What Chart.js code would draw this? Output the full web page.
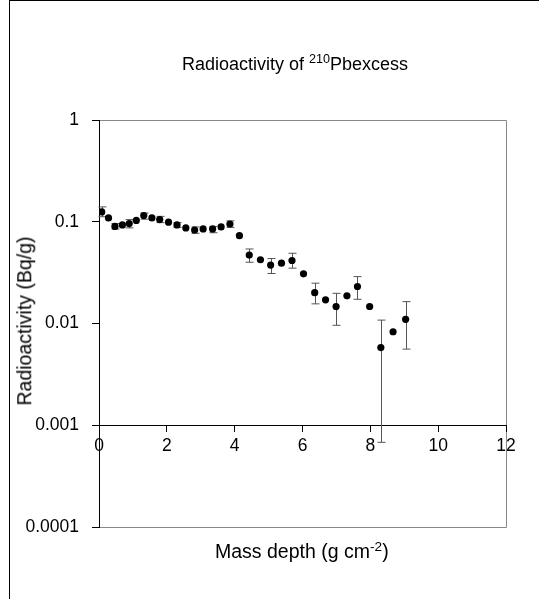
<!DOCTYPE html>
<html>
<head>
<meta charset="utf-8">
<script src="https://cdn.jsdelivr.net/npm/chart.js@4.4.0/dist/chart.umd.min.js"></script>
<style>
body { margin: 0; background: #fff; font-family: "Liberation Sans", Arial, sans-serif; }
#wrap { position: relative; width: 539px; height: 599px; overflow: hidden; }
#frame { position: absolute; left: 9px; top: 0; width: 600px; height: 700px; border-left: 1px solid #000; border-top: 1px solid #000; }
canvas { position: absolute; left: 0; top: 0; }
.t { position: absolute; color: #000; white-space: nowrap; line-height: 1; }
.t sup { position: relative; top: -0.55em; font-size: 0.7em; vertical-align: baseline; line-height: 0; }
#title { left: 182px; top: 55px; font-size: 18px; }
#xtitle { left: 215px; top: 542px; font-size: 19.5px; }
#ytitle { left: 25px; top: 321px; font-size: 19.5px; transform: translate(-50%, -50%) rotate(-90deg); }
</style>
</head>
<body>
<div id="wrap">
  <div id="frame"></div>
  <canvas id="c" width="539" height="599"></canvas>
  <div class="t" id="title">Radioactivity of <sup>210</sup>Pbexcess</div>
  <div class="t" id="xtitle">Mass depth (g cm<sup>-2</sup>)</div>
  <div class="t" id="ytitle">Radioactivity (Bq/g)</div>
</div>
<script>
// values
const depth = [0.08, 0.28, 0.47, 0.69, 0.89, 1.10, 1.32, 1.56, 1.79, 2.05, 2.30, 2.56, 2.82, 3.07, 3.35, 3.60, 3.86,
    4.14, 4.43, 4.76, 5.06, 5.38, 5.69, 6.03, 6.36, 6.68, 6.99, 7.31, 7.62, 7.98, 8.31, 8.67, 9.04];
const activity = [0.125, 0.109, 0.090, 0.093, 0.096, 0.103, 0.115, 0.109, 0.105, 0.099, 0.093, 0.087, 0.083, 0.085, 0.085, 0.089, 0.095,
    0.073, 0.047, 0.0423, 0.0375, 0.0392, 0.0416, 0.0308, 0.0201, 0.0171, 0.0147, 0.0187, 0.0231, 0.0147, 0.0058, 0.0083, 0.011];
// error bar ends, null = no bar
const errLow = [0.112, null, 0.085, null, 0.087, null, 0.106, null, 0.098, null, 0.088, null, 0.077, null, 0.078, null, 0.088,
    null, 0.040, null, 0.031, null, 0.035, null, 0.0156, null, 0.0096, null, 0.0173, null, 0.00068, null, 0.0056];
const errHigh = [0.140, null, 0.096, null, 0.105, null, 0.122, null, 0.113, null, 0.098, null, 0.089, null, 0.090, null, 0.102,
    null, 0.054, null, 0.0435, null, 0.049, null, 0.0249, null, 0.0198, null, 0.0289, null, 0.0108, null, 0.0164];

const yTicks = [1, 0.1, 0.01, 0.001, 0.0001];
const xTicks = [0, 2, 4, 6, 8, 10, 12];

let points = depth.map((d, i) => ({x: d, y: activity[i]}));

const errorBars = {
    id: 'errorBars',
    beforeDatasetsDraw(chart) {
        let ctx = chart.ctx;
        let xs = chart.scales.x, ys = chart.scales.y;
        ctx.save();
        ctx.strokeStyle = '#555';
        ctx.lineWidth = 1;
        for (let i = 0; i < depth.length; i++) {
            if (errLow[i] == null) continue;
            let px = Math.round(xs.getPixelForValue(depth[i])) + 0.5;
            let top = ys.getPixelForValue(errHigh[i]);
            let bot = ys.getPixelForValue(errLow[i]);
            ctx.beginPath();
            ctx.moveTo(px, top); ctx.lineTo(px, bot);
            ctx.moveTo(px - 4, top); ctx.lineTo(px + 4, top);
            ctx.moveTo(px - 4, bot); ctx.lineTo(px + 4, bot);
            ctx.stroke();
        }
        ctx.restore();
    }
};

const plotFrame = {
    id: 'plotFrame',
    beforeDraw(chart) {
        let ctx = chart.ctx;
        let a = chart.chartArea;
        let l = Math.round(a.left) + 0.5, r = Math.round(a.right) + 0.5;
        let t = Math.round(a.top) + 0.5, b = Math.round(a.bottom) + 0.5;
        ctx.save();
        ctx.strokeStyle = '#888';
        ctx.lineWidth = 1;
        ctx.beginPath();
        ctx.moveTo(l, t); ctx.lineTo(r, t); ctx.lineTo(r, b); ctx.lineTo(l, b);
        ctx.stroke();
        ctx.restore();
    }
};

const tickFont = {family: '"Liberation Sans", Arial, sans-serif', size: 17.5};

new Chart(document.getElementById('c'), {
    type: 'scatter',
    data: {
        datasets: [{
            data: points,
            backgroundColor: '#000',
            borderColor: '#000',
            borderWidth: 0,
            pointRadius: 3.6,
            showLine: false
        }]
    },
    options: {
        responsive: false,
        animation: false,
        layout: {padding: {top: 120, right: 33, bottom: 72, left: 0}},
        plugins: {legend: {display: false}, tooltip: {enabled: false}},
        scales: {
            x: {
                type: 'linear',
                position: {y: 0.001},
                min: 0,
                max: 12,
                afterBuildTicks: (s) => { s.ticks = xTicks.map(v => ({value: v})); },
                ticks: {font: tickFont, color: '#000', padding: 4},
                grid: {drawOnChartArea: false, drawTicks: true, tickLength: 6, tickColor: '#000'},
                border: {color: '#000', width: 1}
            },
            y: {
                type: 'logarithmic',
                position: 'left',
                min: 0.0001,
                max: 1,
                afterBuildTicks: (s) => { s.ticks = yTicks.map(v => ({value: v})); },
                afterFit: (s) => { s.width = 99; },
                ticks: {font: tickFont, color: '#000', padding: 13, callback: (v) => String(v)},
                grid: {drawOnChartArea: false, drawTicks: true, tickLength: 7, tickColor: '#000'},
                border: {color: '#000', width: 1}
            }
        }
    },
    plugins: [plotFrame, errorBars]
});
</script>
</body>
</html>
